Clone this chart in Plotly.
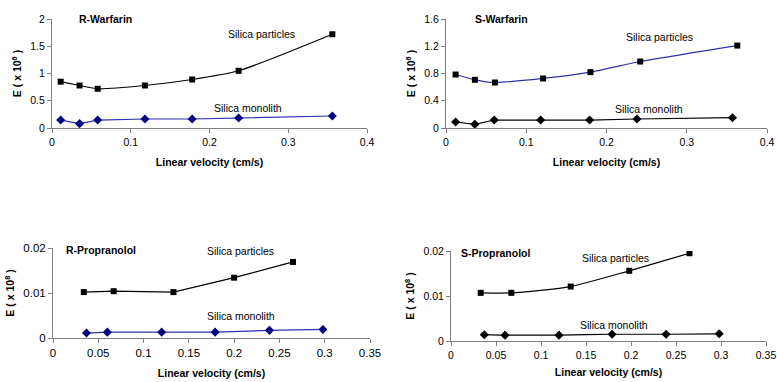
import plotly.graph_objects as go

# ---------------- data ----------------
rw_part_x = [0.011, 0.035, 0.058, 0.118, 0.178, 0.237, 0.356]
rw_part_y = [0.85, 0.78, 0.72, 0.78, 0.89, 1.05, 1.72]
rw_mono_x = [0.011, 0.035, 0.058, 0.118, 0.178, 0.237, 0.356]
rw_mono_y = [0.146, 0.08, 0.146, 0.165, 0.165, 0.183, 0.22]

sw_part_x = [0.012, 0.036, 0.061, 0.121, 0.180, 0.242, 0.363]
sw_part_y = [0.785, 0.707, 0.668, 0.727, 0.82, 0.976, 1.21]
sw_mono_x = [0.012, 0.036, 0.060, 0.118, 0.179, 0.238, 0.357]
sw_mono_y = [0.088, 0.054, 0.117, 0.117, 0.117, 0.132, 0.151]

rp_part_x = [0.034, 0.067, 0.133, 0.200, 0.265]
rp_part_y = [0.0102, 0.0104, 0.0102, 0.0134, 0.0169]
rp_mono_x = [0.037, 0.060, 0.120, 0.179, 0.239, 0.298]
rp_mono_y = [0.0011, 0.0013, 0.0013, 0.0013, 0.0017, 0.0019]

sp_part_x = [0.033, 0.067, 0.133, 0.198, 0.265]
sp_part_y = [0.0107, 0.0107, 0.0121, 0.0156, 0.0195]
sp_mono_x = [0.037, 0.060, 0.120, 0.179, 0.239, 0.298]
sp_mono_y = [0.0014, 0.0013, 0.0013, 0.0015, 0.0015, 0.0016]

titles = ["R-Warfarin", "S-Warfarin", "R-Propranolol", "S-Propranolol"]
series_names = ["Silica particles", "Silica monolith"]
x_title = "Linear velocity (cm/s)"
y_titles = ["E ( x 10<sup>6</sup> )", "E ( x 10<sup>6</sup> )",
            "E ( x 10<sup>8</sup> )", "E ( x 10<sup>8</sup> )"]

W, H = 777, 382
BLACK = "#000000"
BLUE = "#3030b0"
NAVY = "#000080"
FONT = "Liberation Sans, Arial, sans-serif"

fig = go.Figure()

def add(xs, ys, n, sym, lc, mc, shape, name):
    sfx = "" if n == 1 else str(n)
    fig.add_trace(go.Scatter(
        x=xs, y=ys, mode="lines+markers", name=name,
        line=dict(color=lc, width=1.2, shape=shape, smoothing=0.6),
        marker=dict(symbol=sym, size=6 if sym == "square" else 7, color=mc),
        xaxis="x" + sfx, yaxis="y" + sfx, showlegend=False))

add(rw_part_x, rw_part_y, 1, "square", BLACK, BLACK, "spline", series_names[0])
add(rw_mono_x, rw_mono_y, 1, "diamond", BLUE, NAVY, "linear", series_names[1])
add(sw_part_x, sw_part_y, 2, "square", BLUE, BLACK, "spline", series_names[0])
add(sw_mono_x, sw_mono_y, 2, "diamond", BLACK, BLACK, "linear", series_names[1])
add(rp_part_x, rp_part_y, 3, "square", BLACK, BLACK, "linear", series_names[0])
add(rp_mono_x, rp_mono_y, 3, "diamond", BLUE, NAVY, "linear", series_names[1])
add(sp_part_x, sp_part_y, 4, "square", BLACK, BLACK, "spline", series_names[0])
add(sp_mono_x, sp_mono_y, 4, "diamond", BLACK, BLACK, "spline", series_names[1])

# panel pixel boxes: (left, right, top, bottom)
boxes = [(52, 367, 19, 128), (446, 767, 19, 128),
         (53, 370, 248, 338), (451, 766, 251, 341)]
xranges = [[0, 0.4], [0, 0.4], [0, 0.35], [0, 0.35]]
xdticks = [0.1, 0.1, 0.05, 0.05]
yranges = [[0, 2], [0, 1.6], [0, 0.02], [0, 0.02]]
ydticks = [0.5, 0.4, 0.01, 0.01]
x_standoffs = [12, 12, 11, 9]
tick_sizes = [10.5, 10.5, 11.5, 10.5]

axis_common = dict(showline=True, linecolor="#808080", linewidth=1,
                   ticks="outside", ticklen=4, tickcolor="#808080",
                   showgrid=False, zeroline=False, automargin=False,
                   ticklabeloverflow="allow")

layout = dict(width=W, height=H, margin=dict(l=0, r=0, t=0, b=0),
              plot_bgcolor="white", paper_bgcolor="white",
              font=dict(family=FONT, size=10.5, color="#000000"))

for i, (l, r, t, b) in enumerate(boxes):
    sfx = "" if i == 0 else str(i + 1)
    tf = dict(family=FONT, size=tick_sizes[i], color="#000000")
    layout["xaxis" + sfx] = dict(
        domain=[l / W, r / W], range=xranges[i], dtick=xdticks[i], tick0=0,
        anchor="y" + sfx, tickfont=tf,
        title=dict(text="<b>" + x_title + "</b>", standoff=x_standoffs[i],
                   font=dict(family=FONT, size=10.5)),
        **axis_common)
    layout["yaxis" + sfx] = dict(
        domain=[1 - b / H, 1 - t / H], range=yranges[i], dtick=ydticks[i], tick0=0,
        anchor="x" + sfx, tickfont=tf,
        title=dict(text="<b>" + y_titles[i] + "</b>", standoff=6,
                   font=dict(family=FONT, size=10.5)),
        **axis_common)

fig.update_layout(**layout)

# text annotations in pixel positions converted to paper coords
def ann(text, px, py, bold=False, xanchor="center"):
    fig.add_annotation(text=("<b>%s</b>" % text) if bold else text,
                       x=px / W, y=1 - py / H, xref="paper", yref="paper",
                       xanchor=xanchor, yanchor="middle", showarrow=False,
                       font=dict(family=FONT, size=10.5, color="#000000"))

ann(titles[0], 77, 19, bold=True, xanchor="left")
ann(series_names[0], 261, 34)
ann(series_names[1], 248, 108)
ann(titles[1], 473, 19, bold=True, xanchor="left")
ann(series_names[0], 659, 37)
ann(series_names[1], 649, 109)
ann(titles[2], 64, 250, bold=True, xanchor="left")
ann(series_names[0], 241, 251)
ann(series_names[1], 241, 316)
ann(titles[3], 459, 253, bold=True, xanchor="left")
ann(series_names[0], 615, 258)
ann(series_names[1], 614, 325)

fig.write_html("out.html", config={"displayModeBar": False},
               post_script="document.body.style.margin='0';document.body.style.padding='0';")
